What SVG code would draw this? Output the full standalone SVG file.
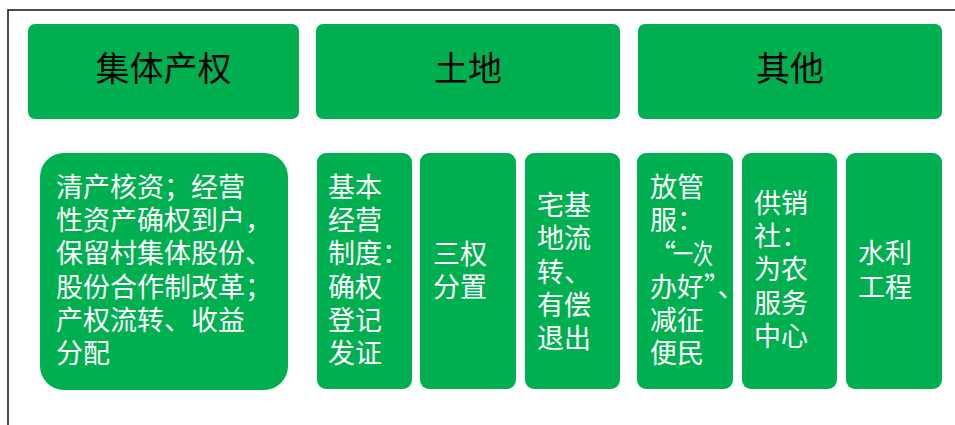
<svg xmlns="http://www.w3.org/2000/svg" width="955" height="425" viewBox="0 0 955 425">
<style>
.hd{fill:#00B050}
.bx{fill:#00B050}
.ht{font-family:"Noto Sans CJK SC","Noto Sans CJK JP",sans-serif;font-size:34px;fill:#000;text-anchor:middle}
.bt{font-family:"Noto Sans CJK SC","Noto Sans CJK JP",sans-serif;font-size:27px;fill:#fff}
</style>
<rect width="955" height="425" fill="#fff"/>
<path d="M8 425 V10 H955" fill="none" stroke="#111" stroke-width="1.5"/>
<g id="h1"><rect class="hd" x="28" y="24" width="271" height="95" rx="7"/><text class="ht" x="163.5" y="81">集体产权</text></g>
<g id="h2"><rect class="hd" x="316" y="24" width="304" height="95" rx="7"/><text class="ht" x="468" y="81">土地</text></g>
<g id="h3"><rect class="hd" x="638" y="24" width="304" height="95" rx="7"/><text class="ht" x="790" y="81">其他</text></g>
<g id="c1"><rect class="bx" x="40" y="153" width="248" height="237" rx="24"/>
<text class="bt"><tspan x="56" y="197">清产核资；经营</tspan><tspan x="56" y="230">性资产确权到户，</tspan><tspan x="56" y="263">保留村集体股份、</tspan><tspan x="56" y="297">股份合作制改革；</tspan><tspan x="56" y="330">产权流转、收益</tspan><tspan x="56" y="363">分配</tspan></text></g>
<g id="l1"><rect class="bx" x="317" y="153" width="95" height="236" rx="9"/>
<text class="bt"><tspan x="328" y="197">基本</tspan><tspan x="328" y="230">经营</tspan><tspan x="328" y="263">制度：</tspan><tspan x="328" y="297">确权</tspan><tspan x="328" y="330">登记</tspan><tspan x="328" y="363">发证</tspan></text></g>
<g id="l2"><rect class="bx" x="420" y="153" width="96" height="236" rx="9"/>
<text class="bt"><tspan x="433" y="264">三权</tspan><tspan x="433" y="297">分置</tspan></text></g>
<g id="l3"><rect class="bx" x="525" y="153" width="95" height="236" rx="9"/>
<text class="bt"><tspan x="537" y="215">宅基</tspan><tspan x="537" y="248">地流</tspan><tspan x="537" y="282">转、</tspan><tspan x="537" y="315">有偿</tspan><tspan x="537" y="348">退出</tspan></text></g>
<g id="o1"><rect class="bx" x="637" y="153" width="96" height="236" rx="9"/>
<text class="bt"><tspan x="650" y="197">放管</tspan><tspan x="650" y="230">服：</tspan><tspan x="649" y="264">“</tspan><tspan x="673" y="264" textLength="40" lengthAdjust="spacingAndGlyphs">一次</tspan><tspan x="650" y="297">办好”、</tspan><tspan x="650" y="330">减征</tspan><tspan x="650" y="363">便民</tspan></text></g>
<g id="o2"><rect class="bx" x="742" y="153" width="95" height="236" rx="9"/>
<text class="bt"><tspan x="754" y="213">供销</tspan><tspan x="754" y="246">社：</tspan><tspan x="754" y="279">为农</tspan><tspan x="754" y="313">服务</tspan><tspan x="754" y="346">中心</tspan></text></g>
<g id="o3"><rect class="bx" x="846" y="153" width="96" height="236" rx="9"/>
<text class="bt"><tspan x="858" y="263">水利</tspan><tspan x="858" y="297">工程</tspan></text></g>
<g id="connectors"></g>
</svg>
